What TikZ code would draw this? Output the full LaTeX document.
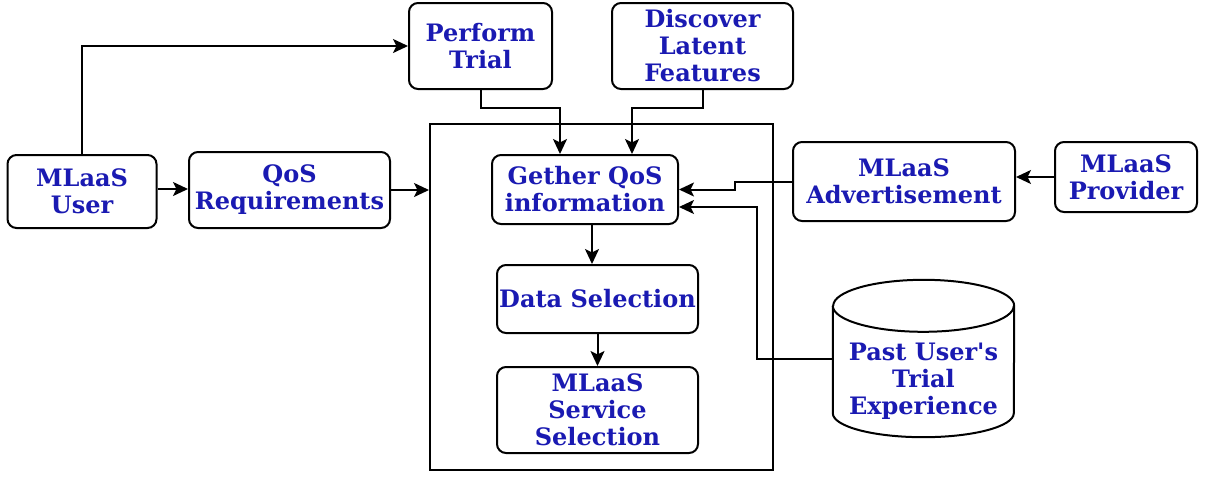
\documentclass[tikz,border=0pt]{standalone}
\usepackage{fontspec}
\setmainfont{DejaVu Serif}
\usetikzlibrary{arrows.meta,calc}
\definecolor{labelblue}{RGB}{26,26,178}
% straight apostrophe, set as a glyph so the TeX quote mapping leaves it alone
\newcommand{\straightquote}{\XeTeXglyph\numexpr\XeTeXcharglyph"27\relax}
\tikzset{
  labelfont/.style={text=labelblue, font=\bfseries\fontsize{24}{27}\selectfont},
  box/.style={draw, line width=2pt, rounded corners=9pt, fill=white,
    inner sep=0pt, align=center, labelfont},
  arr/.style={line width=2pt, -{Stealth[length=15pt,width=14pt,inset=3.5pt]}},
}
\begin{document}
\begin{tikzpicture}[x=1pt,y=-1pt]
\useasboundingbox (0,0) rectangle (1205,477);

% outer frame around the selection steps
\node[draw, line width=2pt, minimum width=343pt, minimum height=346pt, inner sep=0pt] (frame) at (601.5,297) {};

% process boxes
\node[box, minimum width=149pt, minimum height=73pt] (user) at (82,191.5) {MLaaS\\User};
\node[box, minimum width=201pt, minimum height=76pt] (qos) at (289.5,190) {QoS\\Requirements};
\node[box, minimum width=143pt, minimum height=86pt] (trial) at (480.5,46) {Perform\\Trial};
\node[box, minimum width=181pt, minimum height=86pt] (disc) at (702.5,46) {Discover\\Latent\\Features};
\node[box, minimum width=186pt, minimum height=69pt] (gether) at (585,189.5) {Gether QoS\\information};
\node[box, minimum width=201pt, minimum height=68pt] (data) at (597.5,299) {Data Selection};
\node[box, minimum width=201pt, minimum height=86pt] (service) at (597.5,410) {MLaaS\\Service\\Selection};
\node[box, minimum width=222pt, minimum height=79pt] (adv) at (904,181.5) {MLaaS\\Advertisement};
\node[box, minimum width=142pt, minimum height=70pt] (prov) at (1126,177) {MLaaS\\Provider};

% database cylinder
\node[minimum width=181pt, minimum height=157pt, inner sep=0pt] (past) at (923.5,358.5) {};
\draw[line width=2pt, fill=white]
  ($(past.north west)+(0,26)$) -- ($(past.south west)+(0,-24)$)
  arc[start angle=180, end angle=360, x radius=90.5pt, y radius=24pt]
  -- ($(past.north east)+(0,26)$)
  arc[start angle=0, end angle=180, x radius=90.5pt, y radius=26pt];
\draw[line width=2pt] ($(past.north west)+(0,26)$)
  arc[start angle=180, end angle=360, x radius=90.5pt, y radius=26pt];
\node[align=center, labelfont] (pastlabel) at (923.5,381) {Past User\straightquote s\\Trial\\Experience};

% connectors
\coordinate (gd) at ($(gether.south)+(7,0)$);
\coordinate (uq) at ($(user.east)+(0,-2.5)$);
\draw[arr] (uq) -- (uq -| qos.west);
\draw[arr] (user.north) |- (trial.west);
\draw[arr] (qos.east) -- (qos.east -| frame.west);
\draw[arr] (trial.south) -- ++(0,18) -| ($(gether.north)+(-25,0)$);
\draw[arr] (disc.south) -- ++(0,18) -| ($(gether.north)+(47,0)$);
\draw[arr] (gd) -- (gd |- data.north);
\draw[arr] (data.south) -- (service.north);
\draw[arr] (prov.west) -- (prov.west -| adv.east);
\draw[arr] (adv.west) -- ++(-57,0) |- (gether.east);
\draw[arr] (past.west) -- ++(-76,0) |- ($(gether.east)+(0,17.5)$);
\end{tikzpicture}
\end{document}
